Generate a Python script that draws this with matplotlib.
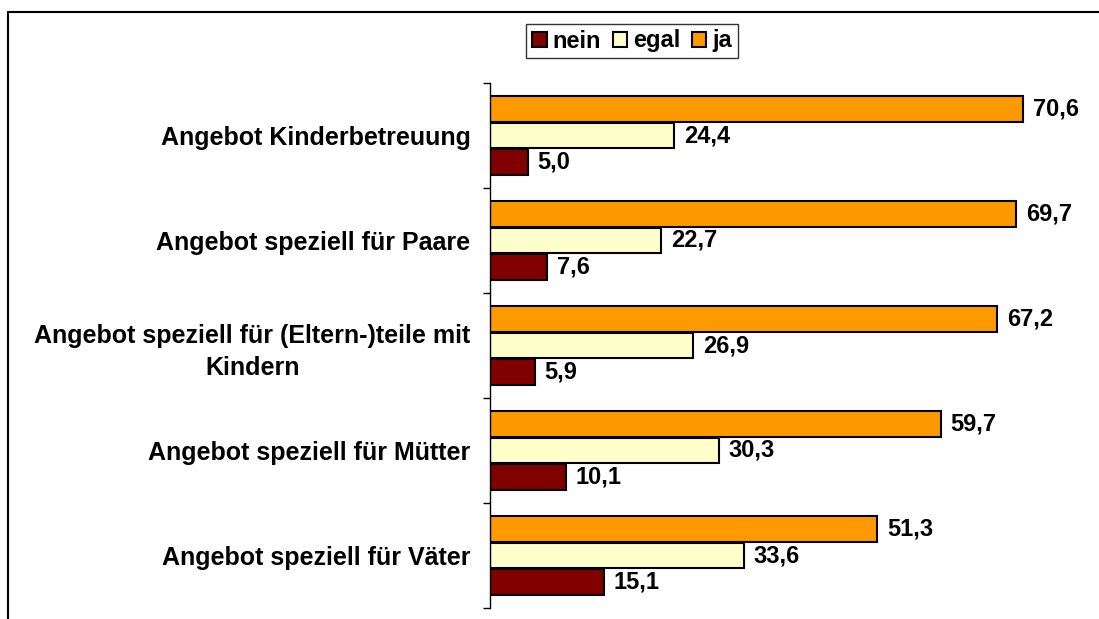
import numpy as np
import matplotlib.pyplot as plt
from matplotlib.patches import Rectangle

plt.rcParams['font.family'] = ['Liberation Sans', 'DejaVu Sans']

kategorien = ["Angebot Kinderbetreuung",
              "Angebot speziell für Paare",
              "Angebot speziell für (Eltern-)teile mit\nKindern",
              "Angebot speziell für Mütter",
              "Angebot speziell für Väter"]
nein = [5.0, 7.6, 5.9, 10.1, 15.1]
egal = [24.4, 22.7, 26.9, 30.3, 33.6]
ja = [70.6, 69.7, 67.2, 59.7, 51.3]

serien = [("nein", nein, "#800000"), ("egal", egal, "#FFFFCC"), ("ja", ja, "#FF9900")]
versatz = {"ja": -0.25, "egal": 0.0, "nein": 0.25}
hoehe = 0.245
schrift = 17

fig = plt.figure(figsize=(10.99, 6.19), dpi=100)
ax = fig.add_axes([490 / 1099, 1 - 608 / 619, 604 / 1099, (608 - 83) / 619])

pos = np.arange(len(kategorien))
handles = []
for name, werte, farbe in serien:
    b = ax.barh(pos + versatz[name], werte, height=hoehe, color=farbe,
                edgecolor="black", linewidth=1.5, label=name)
    handles.append(b)
    for y, v in zip(pos + versatz[name], werte):
        ax.annotate(f"{v:.1f}".replace(".", ","), (v, y), xytext=(7, 0),
                    textcoords="offset points", va="center", ha="left",
                    fontsize=schrift, fontweight="bold")

ax.set_xlim(0, 80)
ax.set_ylim(len(kategorien) - 0.5, -0.5)
ax.set_xticks([])

# Gruppengrenzen als Striche, Beschriftung in der Mitte
ax.set_yticks(np.arange(len(kategorien) + 1) - 0.5)
ax.set_yticklabels([])
ax.tick_params(axis="y", which="major", length=5, width=1, direction="out")
ax.set_yticks(pos, kategorien, minor=True)
ax.tick_params(axis="y", which="minor", length=0, pad=14)
for lbl in ax.get_yticklabels(minor=True):
    lbl.set_fontsize(18)
    lbl.set_fontweight("bold")
    lbl.set_multialignment("center")
    lbl.set_linespacing(1.4)

for s in ["top", "right", "bottom"]:
    ax.spines[s].set_visible(False)
ax.spines["left"].set_linewidth(1)

leg = fig.legend(handles=handles, labels=["nein", "egal", "ja"], loc="center",
                 bbox_to_anchor=(632 / 1099, 1 - 41 / 619), ncol=3,
                 frameon=True, fancybox=False, edgecolor="black",
                 handlelength=0.6, handleheight=0.6, handletextpad=0.25,
                 columnspacing=0.5, borderpad=0.25,
                 prop={"weight": "bold", "size": schrift})
leg.get_frame().set_linewidth(1)

fig.patches.append(Rectangle((8 / 1099, -0.1), 1.2, 1.1 - 12 / 619,
                             transform=fig.transFigure, fill=False,
                             edgecolor="black", linewidth=1.5))

fig.savefig("out.png", dpi=100)
